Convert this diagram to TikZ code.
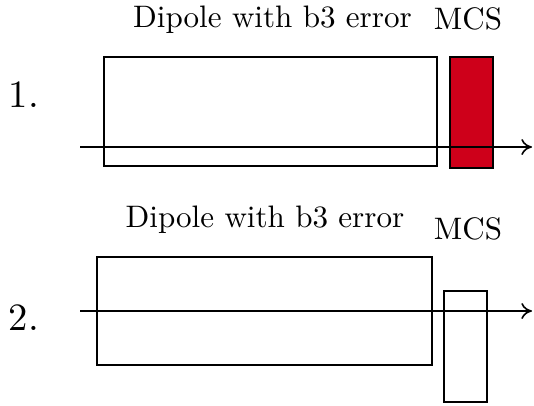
\documentclass[tikz,border=0pt]{standalone}
\usepackage{fontspec}
\setmainfont{lmroman10-regular}[Extension=.otf]
\usetikzlibrary{arrows.meta}
\definecolor{mcsred}{RGB}{206,0,26}
\begin{document}
\begin{tikzpicture}[x=0.75pt,y=-0.75pt,
  box/.style={draw=black,line width=1.2pt,inner sep=0pt,outer sep=0pt},
  lbl/.style={font=\fontsize{23.3}{28}\selectfont,anchor=base,inner sep=0pt},
  num/.style={font=\fontsize{29}{34}\selectfont,anchor=base,inner sep=0pt},
  axis/.style={line width=1.2pt,-{To[length=8pt,width=12pt]}}]
\useasboundingbox (0,0) rectangle (534,405);
% row 1
\node[box,minimum width=333*0.75pt,minimum height=109*0.75pt] (d1) at (270.5,111.5) {};
\node[box,fill=mcsred,minimum width=43*0.75pt,minimum height=111*0.75pt] (m1) at (471.5,112.5) {};
\node[lbl] (t1) at (272.5,27) {Dipole with b3 error};
\node[lbl] (mt1) at (468,29) {MCS};
\node[num] (n1) at (24,107) {1.};
\coordinate (a1s) at (80,147);
\coordinate (a1e) at (532,147);
\draw[axis] (a1s) -- (a1e);
% row 2
\node[box,minimum width=335*0.75pt,minimum height=108*0.75pt] (d2) at (264.5,311) {};
\node[box,minimum width=43*0.75pt,minimum height=111*0.75pt] (m2) at (465.5,346.5) {};
\node[lbl] (t2) at (265,227) {Dipole with b3 error};
\node[lbl] (mt2) at (468,239) {MCS};
\node[num] (n2) at (24,330) {2.};
\coordinate (a2s) at (80,311);
\coordinate (a2e) at (532,311);
\draw[axis] (a2s) -- (a2e);
\end{tikzpicture}
\end{document}
